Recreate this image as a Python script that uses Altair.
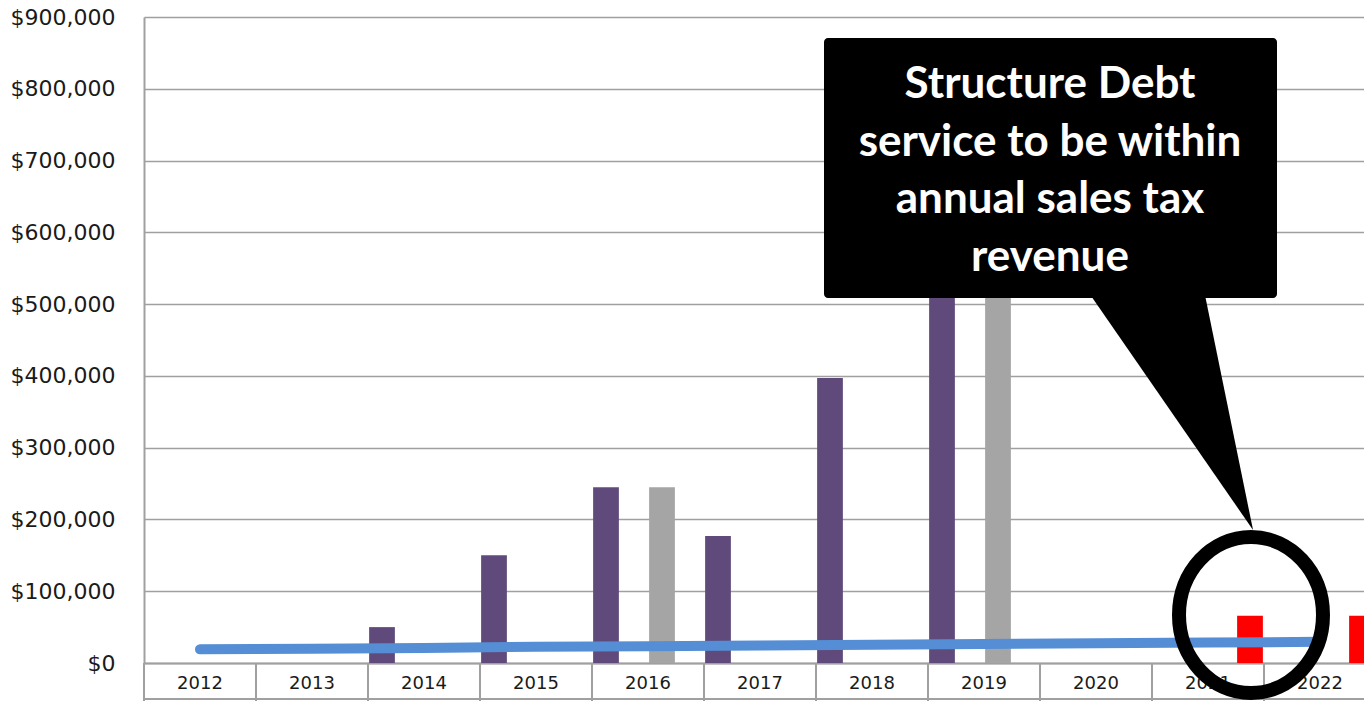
import altair as alt
import pandas as pd

# ---------------- data ----------------
years = [str(y) for y in range(2012, 2023)]
series_names = ["Series A", "Series B", "Series C", "Series D"]
series_colors = ["#604A7B", "#4F81BD", "#A5A5A5", "#FF0000"]
series_a = [None, None, 50000, 150000, 245000, 177000, 397000, 650000, None, None, None]
series_b = [None] * 11
series_c = [None, None, None, None, 245000, None, None, 650000, None, None, None]
series_d = [None, None, None, None, None, None, None, None, None, 66000, 66000]
trend = [19000, 20000, 21000, 22500, 23500, 24500, 25500, 26500, 27500, 28500, 29500]
y_ticks = list(range(0, 900001, 100000))
callout_lines = ["Structure Debt", "service to be within", "annual sales tax", "revenue"]

rows = []
for name, vals in zip(series_names, [series_a, series_b, series_c, series_d]):
    for yr, v in zip(years, vals):
        if v is not None:
            rows.append({"year": yr, "series": name, "value": v})
bars_df = pd.DataFrame(rows)
trend_df = pd.DataFrame({"year": years, "value": trend})
years_df = pd.DataFrame({"year": years})
one = pd.DataFrame({"k": [0]})

W, H = 1220, 646
xscale = alt.Scale(domain=years, range=[0, 1232], paddingInner=0, paddingOuter=0)
yscale = alt.Scale(domain=[0, 900000], nice=False, zero=True)

GRID = "#A0A0A0"

bars = alt.Chart(bars_df).mark_bar().encode(
    x=alt.X("year:O", scale=xscale, title=None,
            axis=alt.Axis(labelFont="DejaVu Sans", labelFontSize=18, labelColor="#1a1a1a",
                          ticks=False, labelPadding=20, labelBaseline="middle",
                          labelAlign="center", labelAngle=0,
                          domainColor=GRID, domainWidth=2, grid=False)),
    xOffset=alt.XOffset("series:N",
                        scale=alt.Scale(domain=series_names, paddingInner=0.08, paddingOuter=0.04)),
    y=alt.Y("value:Q", scale=yscale, title=None,
            axis=alt.Axis(values=y_ticks, format="$,.0f", labelFont="DejaVu Sans",
                          labelFontSize=22, labelColor="#1a1a1a", labelPadding=29, ticks=False,
                          domainColor=GRID, domainWidth=2, grid=True, gridColor=GRID,
                          gridWidth=1.6)),
    color=alt.Color("series:N", scale=alt.Scale(domain=series_names, range=series_colors),
                    legend=None),
)

separators = alt.Chart(years_df).mark_rule(color=GRID, strokeWidth=2).encode(
    x=alt.X("year:O", scale=xscale, bandPosition=0, title=None),
    y=alt.value(646),
    y2=alt.value(684),
)

bottom_line = alt.Chart(one).mark_rule(color=GRID, strokeWidth=2).encode(
    x=alt.value(0), x2=alt.value(W), y=alt.value(682)
)

line = alt.Chart(trend_df).mark_line(color="#558ED5", strokeWidth=10, strokeCap="round").encode(
    x=alt.X("year:O", scale=xscale, title=None),
    y=alt.Y("value:Q", scale=yscale, title=None),
)

k = 0.5523
a = 0.923
ellipse_path = (
    f"M {a} 0 C {a} {k}, {k*a} 1, 0 1 C {-k*a} 1, {-a} {k}, {-a} 0 "
    f"C {-a} {-k}, {-k*a} -1, 0 -1 C {k*a} -1, {a} {-k}, {a} 0 Z"
)
ring = alt.Chart(one).mark_point(
    shape=ellipse_path, size=24336, filled=False, stroke="black", strokeWidth=14, opacity=1
).encode(x=alt.value(1107), y=alt.value(598))

tri_path = "M -0.692 -1 L 0.283 -1 L 0.692 1 Z"
pointer = alt.Chart(one).mark_point(
    shape=tri_path, size=57600, filled=True, color="black", opacity=1, strokeWidth=0
).encode(x=alt.value(1026), y=alt.value(393))

box = alt.Chart(one).mark_rect(color="black", cornerRadius=4).encode(
    x=alt.value(680), x2=alt.value(1133), y=alt.value(21), y2=alt.value(281)
)

text = alt.Chart(one).mark_text(
    font="Lato", fontWeight="bold", fontSize=44, color="white",
    align="center", baseline="middle", lineHeight=57.7
).encode(x=alt.value(906), y=alt.value(68), text=alt.value(callout_lines))

chart = alt.layer(
    separators, bottom_line, bars, line, ring, pointer, box, text
).properties(
    width=W, height=H,
    autosize=alt.AutoSizeParams(type="none"),
    padding={"left": 144, "top": 17, "right": 0, "bottom": 38},
    background="white",
).configure_view(stroke=None)

chart.save("out.html", embed_options={"renderer": "svg", "actions": False})
